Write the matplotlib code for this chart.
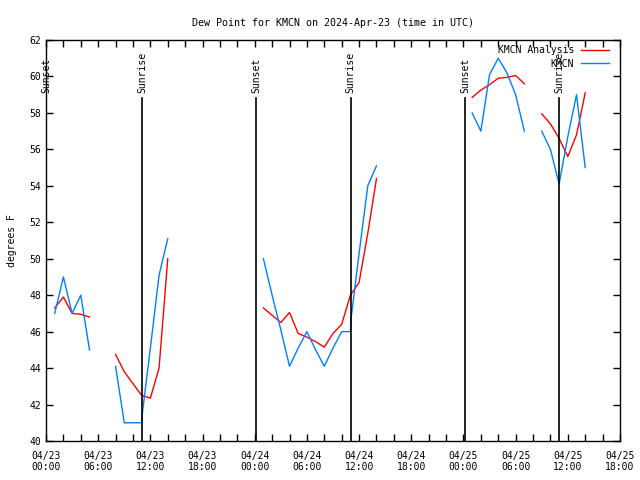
import numpy as np
import matplotlib
matplotlib.use('Agg')
import matplotlib.pyplot as plt
from matplotlib.ticker import MultipleLocator

plt.rcParams['font.family'] = 'DejaVu Sans Mono'
plt.rcParams['font.size'] = 7

nan = np.nan

# hours since 04/23 00:00 UTC, nan breaks the line
obs_hours = [1, 2, 3, 4, 5, nan,
             8, 9, 10, 11, 11.1, 12, 13, 14, nan,
             25, 26, 27, 28, 29, 30, 31, 32, 33, 34, 35, 35.1, 36, 37, 38, nan,
             49, 50, 51, 52, 53, 54, 55, nan,
             57, 58, 59, 60, 61, 62]
obs_dewp = [47.0, 49.0, 47.0, 48.0, 45.0, nan,
            44.1, 41.0, 41.0, 41.0, 41.6, 45.1, 49.1, 51.1, nan,
            50.0, 48.0, 46.1, 44.1, 45.1, 46.0, 45.0, 44.1, 45.1, 46.0, 46.0, 46.8, 50.3, 54.0, 55.1, nan,
            58.0, 57.0, 60.1, 61.0, 60.2, 59.0, 57.0, nan,
            57.0, 56.0, 54.1, 56.7, 59.0, 55.0]

anl_hours = [1, 2, 3, 4, 5, nan,
             8, 9, 10, 11, 12, 13, 14, nan,
             25, 26, 27, 28, 29, 30, 31, 32, 33, 34, 35, 36, 37, 38, nan,
             49, 50, 51, 52, 53, 54, 55, nan,
             57, 58, 59, 60, 61, 62]
anl_dewp = [47.3, 47.9, 47.0, 46.95, 46.8, nan,
            44.75, 43.8, 43.15, 42.5, 42.35, 44.0, 50.0, nan,
            47.3, 46.9, 46.5, 47.05, 45.9, 45.7, 45.45, 45.15, 45.9, 46.4, 48.0, 48.7, 51.4, 54.4, nan,
            58.85, 59.25, 59.55, 59.9, 59.95, 60.05, 59.6, nan,
            57.95, 57.4, 56.6, 55.6, 56.8, 59.1]

sunset_hours = [0.0, 24.15, 48.2]
sunrise_hours = [11.05, 35.05, 59.0]

tick_hours = list(range(0, 67, 6))
tick_labels = ['04/23\n00:00', '04/23\n06:00', '04/23\n12:00', '04/23\n18:00',
               '04/24\n00:00', '04/24\n06:00', '04/24\n12:00', '04/24\n18:00',
               '04/25\n00:00', '04/25\n06:00', '04/25\n12:00', '04/25\n18:00']

fig = plt.figure(figsize=(6.4, 4.8), dpi=100)
ax = fig.add_axes([46/640, 39/480, 574/640, 401/480])

ax.plot(anl_hours, anl_dewp, color='#ff0000', lw=1, label='KMCN Analysis')
ax.plot(obs_hours, obs_dewp, color='#0080ff', lw=1, label='KMCN')

line_top = 58.8
for h in sunset_hours:
    ax.plot([h, h], [40, line_top], color='black', lw=1.2)
    ax.text(h, line_top + 0.3, 'Sunset', rotation=90, ha='center', va='bottom')
for h in sunrise_hours:
    ax.plot([h, h], [40, line_top], color='black', lw=1.2)
    ax.text(h, line_top + 0.3, 'Sunrise', rotation=90, ha='center', va='bottom')

ax.set_xlim(0, 66)
ax.set_ylim(40, 62)
ax.set_xticks(tick_hours)
ax.set_xticklabels(tick_labels)
ax.xaxis.set_minor_locator(MultipleLocator(2))
ax.yaxis.set_major_locator(MultipleLocator(2))
ax.tick_params(which='both', direction='in', top=True, right=True, length=5, width=1)
ax.tick_params(axis='x', pad=7)
for s in ax.spines.values():
    s.set_linewidth(1)

ax.set_title('Dew Point for KMCN on 2024-Apr-23 (time in UTC)', fontsize=7.2, pad=10)
ax.set_ylabel('degrees F', labelpad=9)

ax.legend(loc='upper right', bbox_to_anchor=(0.993, 1.004), frameon=False,
          markerfirst=False, handlelength=2.9, labelspacing=0.35, borderpad=0.2,
          handletextpad=0.7)

fig.savefig('out.png', dpi=100)
